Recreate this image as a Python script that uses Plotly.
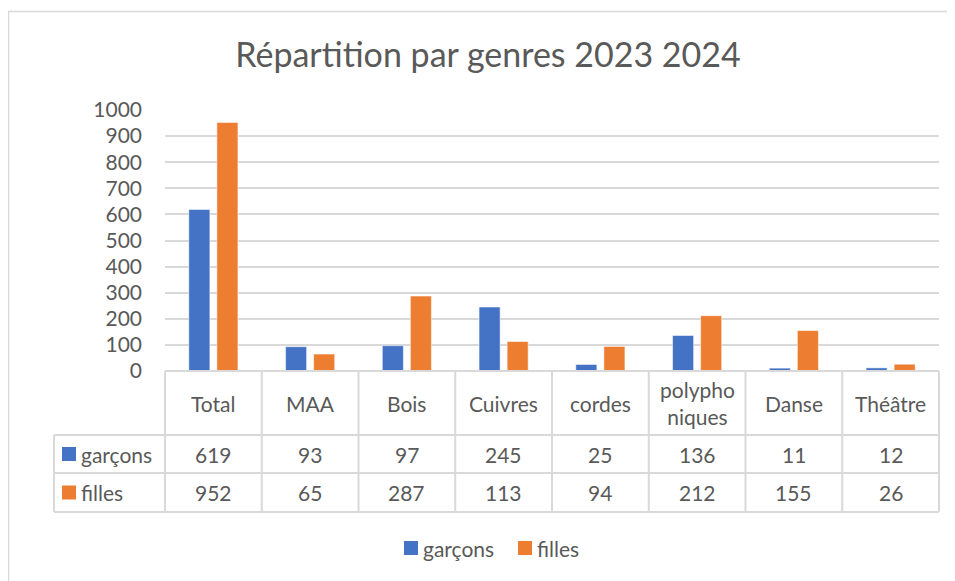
import plotly.graph_objects as go

# data
categories = ['Total', 'MAA', 'Bois', 'Cuivres', 'cordes', 'polypho<br>niques', 'Danse', 'Théâtre']
garcons = [619, 93, 97, 245, 25, 136, 11, 12]
filles = [952, 65, 287, 113, 94, 212, 155, 26]
series_names = ['garçons', 'filles']
y_ticks = list(range(0, 1001, 100))

colors = {'garçons': '#4472C4', 'filles': '#ED7D31'}
text_color = '#595959'
grid_color = '#D9D9D9'
font_family = 'Lato, Open Sans, sans-serif'

# the page body adds an 8px margin, so the figure is drawn 8px smaller
OFF = 8
W, H = 955 - OFF, 581 - OFF
L, R, T, B = 165 - OFF, 16, 110 - OFF, 210
pw, ph = W - L - R, H - T - B


def px2x(px):
    # px in screen coordinates
    return (px - OFF - L) / pw


def py2y(py):
    return (H - B - (py - OFF)) / ph


fig = go.Figure()
for name, vals in zip(series_names, [garcons, filles]):
    fig.add_trace(go.Bar(
        x=categories,
        y=vals,
        name=name,
        marker=dict(color=colors[name], line=dict(color='rgba(255,255,255,0.5)', width=1)),
        hovertemplate='%{x}: %{y}<extra>' + name + '</extra>'
    ))

shapes = []
line_style = dict(color=grid_color, width=2)
n = len(categories)

# outer chart border
shapes.append(dict(type='rect', xref='paper', yref='paper',
                   x0=px2x(8.5), x1=px2x(1000), y0=py2y(640), y1=py2y(11.5),
                   line=dict(color=grid_color, width=1.5), layer='below'))

# data table grid
row_y = [371, 435, 473, 512]
shapes.append(dict(type='line', xref='paper', yref='paper',
                   x0=0, x1=1, y0=py2y(row_y[0]), y1=py2y(row_y[0]), line=line_style))
for yy in row_y[1:]:
    shapes.append(dict(type='line', xref='paper', yref='paper',
                       x0=px2x(54), x1=1, y0=py2y(yy), y1=py2y(yy), line=line_style))
for i in range(n + 1):
    shapes.append(dict(type='line', xref='paper', yref='paper',
                       x0=i / n, x1=i / n, y0=py2y(row_y[0]), y1=py2y(row_y[-1]), line=line_style))
shapes.append(dict(type='line', xref='paper', yref='paper',
                   x0=px2x(54), x1=px2x(54), y0=py2y(row_y[1]), y1=py2y(row_y[-1]), line=line_style))

annotations = []
cell_font = dict(size=21, color=text_color, family=font_family)
# header row
for cat in categories:
    annotations.append(dict(x=cat, xref='x', y=py2y(403), yref='paper', text=cat,
                            showarrow=False, font=cell_font,
                            xanchor='center', yanchor='middle'))
# value rows
for r, (name, vals) in enumerate(zip(series_names, [garcons, filles])):
    yc = (row_y[r + 1] + row_y[r + 2]) / 2
    shapes.append(dict(type='rect', xref='paper', yref='paper',
                       x0=px2x(62), x1=px2x(76), y0=py2y(yc + 7), y1=py2y(yc - 7),
                       fillcolor=colors[name], line=dict(width=0)))
    annotations.append(dict(x=px2x(79), xref='paper', y=py2y(yc), yref='paper', text=name,
                            showarrow=False, font=cell_font,
                            xanchor='left', yanchor='middle'))
    for cat, v in zip(categories, vals):
        annotations.append(dict(x=cat, xref='x', y=py2y(yc), yref='paper', text=str(v),
                                showarrow=False, font=cell_font,
                                xanchor='center', yanchor='middle'))

# legend below the table
legend_pos = {'garçons': 404, 'filles': 518}
for name in series_names:
    x0 = legend_pos[name]
    shapes.append(dict(type='rect', xref='paper', yref='paper',
                       x0=px2x(x0), x1=px2x(x0 + 14), y0=py2y(555), y1=py2y(541),
                       fillcolor=colors[name], line=dict(width=0)))
    annotations.append(dict(x=px2x(x0 + 17), xref='paper', y=py2y(548), yref='paper', text=name,
                            showarrow=False, font=cell_font,
                            xanchor='left', yanchor='middle'))

fig.update_layout(
    width=W, height=H,
    margin=dict(l=L, r=R, t=T, b=B),
    paper_bgcolor='white', plot_bgcolor='white',
    title=dict(text='Répartition par genres 2023 2024', x=(488 - OFF) / W, xanchor='center',
               y=1 - (55 - OFF) / H, yanchor='middle',
               font=dict(size=34, color=text_color, family=font_family)),
    font=dict(family=font_family, color=text_color, size=21),
    showlegend=False,
    bargap=0.42, bargroupgap=0.25,
    xaxis=dict(range=[-0.5, n - 0.5], showticklabels=False, showgrid=False,
               zeroline=False, showline=False, fixedrange=True),
    yaxis=dict(range=[0, 1000], tickvals=y_ticks, showgrid=True, gridcolor=grid_color, gridwidth=2,
               zeroline=False, showline=False, ticklabelstandoff=22,
               tickfont=dict(size=21, color=text_color, family=font_family)),
    shapes=shapes,
    annotations=annotations,
)

fig.write_html("out.html")
